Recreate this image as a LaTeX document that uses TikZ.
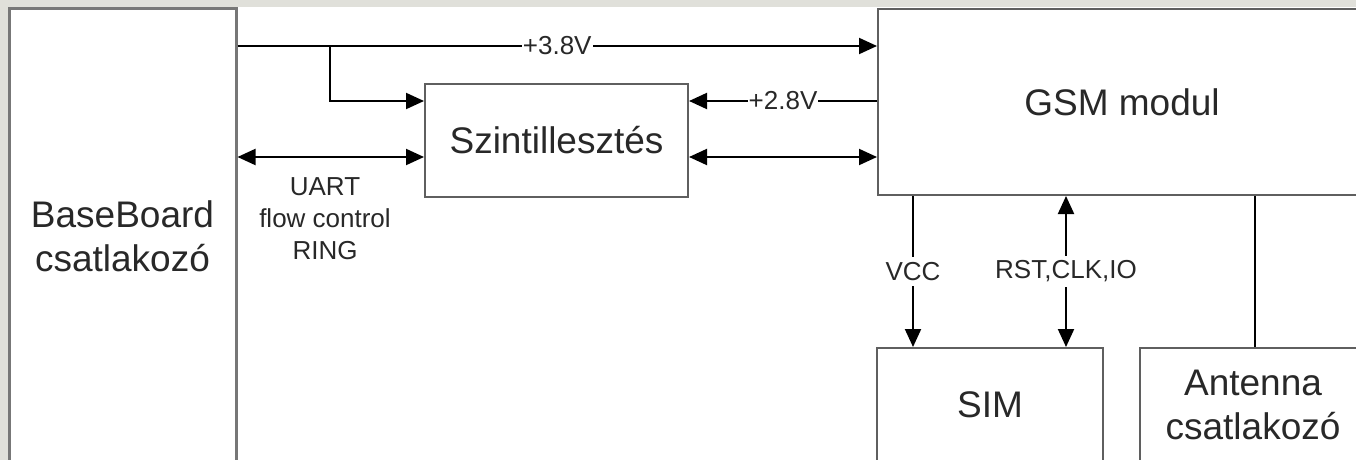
\documentclass[tikz,border=0pt]{standalone}
\usepackage{fontspec}
\setmainfont{Liberation Sans}
\usetikzlibrary{arrows.meta}
\definecolor{bggray}{RGB}{224,224,218}
\definecolor{bordergray}{RGB}{95,95,95}
\definecolor{txt}{RGB}{40,40,40}
\tikzset{
  blk/.style={draw=bordergray, line width=2pt, fill=white, align=center, text=txt,
    font=\fontsize{37}{44}\selectfont, inner sep=0pt},
  tip/.tip={Triangle[length=18pt,width=16pt]},
  arr/.style={line width=2pt, -tip},
  biarr/.style={line width=2pt, tip-tip},
  lab/.style={fill=white, text=txt, inner xsep=1pt, inner ysep=5pt, font=\fontsize{26}{32}\selectfont},
  note/.style={text=txt, align=center, inner sep=0pt, font=\fontsize{26}{32}\selectfont}
}
\begin{document}
\begin{tikzpicture}[x=1pt,y=-1pt]
\useasboundingbox (0,0) rectangle (1356,460);
\clip (0,0) rectangle (1356,460);
\fill[bggray] (0,0) rectangle (1356,460);
\fill[white] (8,7) rectangle (1356,460);

\node[blk, line width=3pt, draw=bordergray!85, minimum width=227pt, minimum height=454pt] (bb) at (122.5,236) {BaseBoard\\csatlakozó};
\node[blk, minimum width=263pt, minimum height=113pt] (szint) at (556.5,140.5) {Szintillesztés};
\node[blk, minimum width=488pt, minimum height=186pt] (gsm) at (1122,102) {GSM modul};
\node[blk, minimum width=226pt, minimum height=114pt] (sim) at (990,405) {SIM};
\node[blk, minimum width=226pt, minimum height=114pt] (ant) at (1253,405) {Antenna\\csatlakozó};

\coordinate (j) at (330,46);
\draw[arr] (bb.east |- j) -- node[lab]{+3.8V} (gsm.west |- j);
\draw[arr] (j) -- (330,101) -- (szint.west |- 0,101);
\draw[arr] (gsm.west |- 0,101) -- node[lab]{+2.8V} (szint.east |- 0,101);
\draw[biarr] (bb.east |- 0,157) -- (szint.west |- 0,157);
\draw[biarr] (szint.east |- 0,157) -- (gsm.west |- 0,157);
\node[note] (uart) at (325,219) {UART\\flow control\\RING};

\draw[arr] (gsm.south -| 913,0) -- node[lab]{VCC} (sim.north -| 913,0);
\draw[biarr] (gsm.south -| 1066,0) -- node[lab]{RST,CLK,IO} (sim.north -| 1066,0);
\draw[line width=2pt] (gsm.south -| 1255,0) -- (ant.north -| 1255,0);
\end{tikzpicture}
\end{document}
